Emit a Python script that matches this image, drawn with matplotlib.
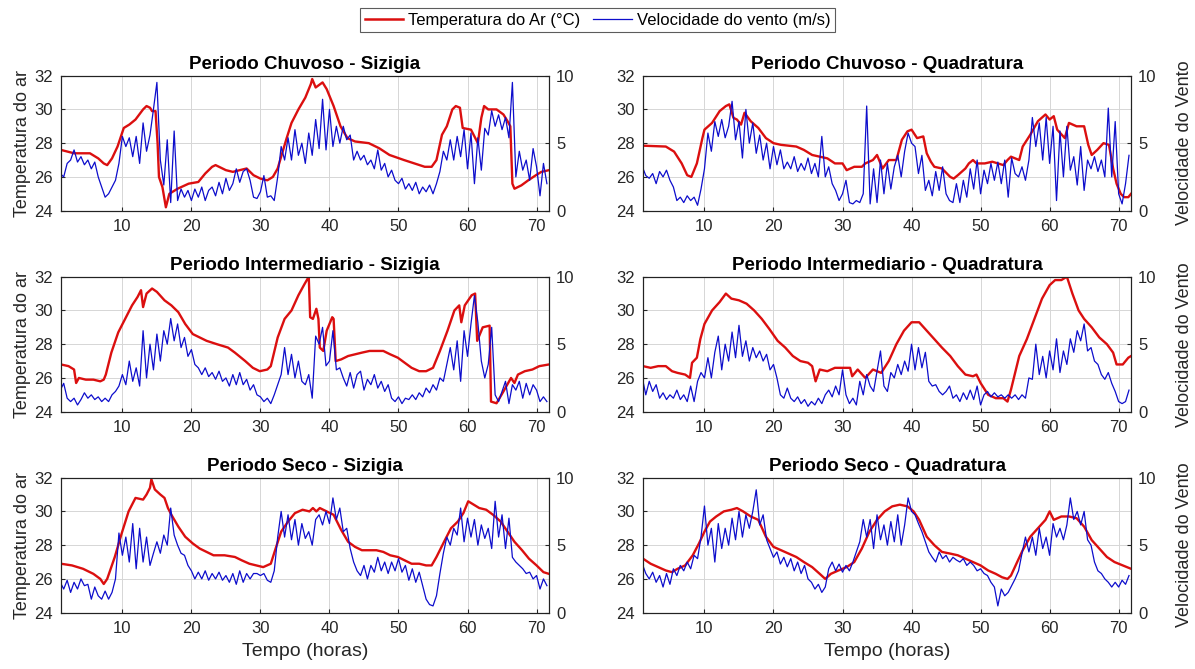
import numpy as np
import matplotlib
matplotlib.use("Agg")
import matplotlib.pyplot as plt
from matplotlib.lines import Line2D

plt.rcParams['font.family'] = ['Liberation Sans', 'DejaVu Sans']

titles = ["Periodo Chuvoso - Sizigia", "Periodo Chuvoso - Quadratura",
          "Periodo Intermediario - Sizigia", "Periodo Intermediario - Quadratura",
          "Periodo Seco - Sizigia", "Periodo Seco - Quadratura"]
legend_labels = ["Temperatura do Ar (°C)", "Velocidade do vento (m/s)"]
x_ticks = [10, 20, 30, 40, 50, 60, 70]
temp_ticks = [24, 26, 28, 30, 32]
wind_ticks = [0, 5, 10]

# ---------------- Temperatura do ar (hours, °C) ----------------
temp1_h = [1.1, 3, 5.3, 6.5, 7.3, 7.8, 8.5, 9.3, 10.2, 11.0,
           11.9, 13.0, 13.5, 14.0, 14.3, 14.8, 15.1, 15.3, 15.8, 16.3,
           16.8, 18.0, 19.6, 21.0, 22.0, 23.0, 23.5, 25.0, 26.0, 27.0,
           28.0, 29.0, 30.0, 31.0, 31.8, 32.5, 33.0, 33.8, 34.5, 35.5,
           36.5, 37.3, 37.5, 38.0, 39.0, 39.6, 40.6, 41.6, 42.6, 43.7,
           45.7, 47.2, 48.7, 50.8, 52.3, 53.8, 54.8, 55.5, 56.3, 57.0,
           57.8, 58.3, 58.9, 59.3, 60.5, 61.5, 62.0, 62.4, 63.0, 64.2,
           65.2, 65.8, 66.2, 66.5, 66.8, 67.8, 68.8, 69.9, 70.7, 71.8]
temp1 = [27.6, 27.4, 27.4, 27.1, 26.8, 26.7, 27.1, 27.8, 28.9, 29.1,
         29.4, 30.0, 30.2, 30.1, 29.9, 29.9, 28.0, 26.0, 25.4, 24.2,
         25.0, 25.3, 25.6, 25.7, 26.2, 26.6, 26.7, 26.4, 26.3, 26.4,
         26.5, 26.1, 25.9, 25.8, 26.0, 26.5, 27.2, 28.3, 29.2, 30.0,
         30.7, 31.5, 31.8, 31.3, 31.6, 31.2, 30.2, 29.0, 28.3, 28.1,
         28.0, 27.7, 27.3, 27.0, 26.8, 26.6, 26.6, 27.0, 28.5, 29.0,
         30.0, 30.2, 30.1, 28.9, 28.8, 28.0, 29.5, 30.2, 30.0, 30.0,
         29.7, 29.3, 29.0, 25.6, 25.3, 25.5, 25.8, 26.1, 26.3, 26.4]

temp2_h = [1.1, 4.4, 5.6, 6.7, 7.5, 8.1, 8.9, 9.7, 10.0, 11.1,
           12.2, 13.1, 13.6, 14.2, 14.7, 15.3, 15.8, 16.7, 17.8, 18.9,
           20.0, 21.1, 23.3, 24.4, 25.6, 26.7, 27.8, 28.9, 30.0, 30.6,
           31.7, 32.8, 33.3, 34.4, 35.0, 35.8, 36.7, 37.8, 38.6, 39.4,
           40.0, 40.8, 41.7, 42.2, 42.8, 43.3, 44.4, 45.6, 46.1, 46.7,
           47.8, 48.3, 48.9, 49.4, 50.6, 51.7, 53.3, 53.9, 54.4, 55.6,
           56.1, 57.2, 58.3, 59.4, 60.0, 60.6, 61.1, 62.2, 62.8, 63.9,
           65.0, 65.6, 66.1, 66.9, 67.8, 68.6, 69.2, 69.7, 70.3, 70.8,
           71.4, 71.8]
temp2 = [27.85, 27.8, 27.5, 26.8, 26.1, 26.0, 26.8, 28.3, 28.8, 29.2,
         29.9, 30.2, 30.3, 29.5, 29.4, 29.1, 29.8, 29.3, 28.9, 28.3,
         28.0, 27.9, 27.8, 27.6, 27.3, 27.2, 27.1, 26.8, 26.8, 26.4,
         26.6, 26.6, 26.8, 27.0, 27.3, 26.5, 27.0, 27.0, 28.2, 28.7,
         28.8, 28.3, 28.4, 27.4, 26.9, 26.6, 26.5, 26.0, 25.9, 26.1,
         26.5, 26.8, 27.0, 26.8, 26.8, 26.9, 26.7, 27.0, 27.2, 27.0,
         27.8, 28.5, 29.3, 29.7, 29.4, 29.6, 28.8, 28.3, 29.2, 29.0,
         29.0, 27.9, 27.3, 27.6, 28.0, 27.9, 26.5, 25.6, 25.0, 24.8,
         24.8, 25.0]

temp3_h = [1.1, 2.2, 3.0, 3.3, 3.7, 4.7, 5.8, 6.8, 7.3, 7.6,
           8.4, 9.4, 10.4, 11.4, 12.2, 12.7, 13.0, 13.5, 14.3, 15.0,
           16.1, 17.1, 18.1, 19.1, 20.2, 21.2, 22.2, 23.7, 25.3, 26.3,
           27.8, 28.9, 29.9, 31.0, 31.5, 32.5, 33.5, 34.5, 35.5, 36.3,
           37.0, 37.2, 37.6, 38.1, 38.4, 38.6, 39.1, 39.6, 40.4, 40.6,
           40.9, 41.7, 42.7, 43.7, 44.7, 45.8, 46.8, 47.8, 48.8, 49.9,
           50.9, 51.9, 53.0, 54.0, 55.0, 56.0, 57.1, 58.1, 58.8, 59.1,
           59.6, 60.6, 61.1, 61.4, 62.2, 63.2, 63.4, 64.2, 65.2, 66.3,
           66.8, 67.3, 68.3, 69.4, 70.4, 71.8]
temp3 = [26.8, 26.7, 26.5, 25.7, 26.0, 25.9, 25.9, 25.8, 25.9, 26.2,
         27.5, 28.7, 29.5, 30.3, 30.8, 31.2, 30.2, 31.0, 31.3, 31.1,
         30.6, 30.3, 29.9, 29.2, 28.6, 28.4, 28.2, 28.0, 27.8, 27.5,
         27.0, 26.6, 26.4, 26.5, 26.7, 28.4, 29.5, 30.0, 30.9, 31.5,
         32.0, 29.6, 29.5, 30.1, 29.5, 27.8, 27.6, 28.8, 29.6, 29.5,
         27.0, 27.1, 27.3, 27.4, 27.5, 27.6, 27.6, 27.6, 27.4, 27.2,
         26.9, 26.6, 26.4, 26.4, 26.6, 27.6, 28.8, 30.0, 30.3, 29.3,
         30.3, 30.9, 31.0, 28.2, 29.0, 29.1, 24.6, 24.5, 25.2, 26.0,
         25.7, 26.2, 26.4, 26.5, 26.7, 26.8]

temp4_h = [1.1, 2.2, 3.3, 4.4, 5.3, 6.1, 7.2, 7.9, 8.2, 8.9,
           9.4, 10.0, 11.1, 12.2, 13.1, 13.9, 15.0, 16.1, 17.2, 18.3,
           19.4, 20.6, 21.7, 22.8, 23.9, 25.0, 25.6, 26.1, 26.7, 27.8,
           28.9, 30.0, 31.1, 31.4, 32.2, 33.3, 34.4, 35.6, 36.7, 37.8,
           38.9, 40.0, 41.1, 42.2, 43.3, 44.4, 45.6, 46.7, 47.8, 48.9,
           49.4, 50.0, 51.1, 52.2, 53.3, 53.9, 54.4, 55.6, 56.7, 57.8,
           58.9, 60.0, 60.8, 61.7, 62.5, 63.3, 64.2, 65.0, 66.1, 67.2,
           68.3, 69.2, 69.7, 70.6, 71.4, 71.8]
temp4 = [26.7, 26.6, 26.7, 26.7, 26.4, 26.3, 26.2, 26.0, 26.9, 27.2,
         28.3, 29.2, 30.0, 30.5, 31.0, 30.7, 30.6, 30.4, 30.0, 29.5,
         28.9, 28.2, 27.8, 27.3, 27.0, 26.9, 26.7, 25.8, 26.5, 26.4,
         26.6, 26.6, 26.6, 26.1, 26.5, 26.0, 26.5, 26.3, 27.0, 28.0,
         28.8, 29.3, 29.3, 28.8, 28.3, 27.8, 27.3, 26.7, 26.2, 26.1,
         26.2, 25.7, 25.0, 24.8, 24.8, 24.6, 25.3, 27.3, 28.3, 29.5,
         30.7, 31.5, 31.8, 31.8, 32.0, 31.0, 30.0, 29.5, 29.0, 28.4,
         28.0, 27.5, 26.8, 26.8, 27.2, 27.3]

temp5_h = [1.1, 2.7, 4.3, 5.8, 6.8, 7.3, 7.8, 8.9, 9.9, 10.9,
           11.9, 13.0, 13.5, 14.0, 14.2, 14.7, 15.5, 16.1, 16.6, 17.1,
           18.1, 19.1, 20.2, 21.2, 22.2, 23.2, 24.8, 26.3, 27.3, 28.4,
           29.4, 30.4, 31.5, 32.2, 33.0, 34.0, 35.0, 36.1, 37.1, 37.6,
           38.1, 38.6, 39.6, 40.6, 41.7, 42.7, 43.7, 44.7, 45.8, 46.8,
           47.8, 48.8, 49.9, 50.9, 51.9, 53.0, 54.0, 54.8, 55.5, 56.6,
           57.6, 58.6, 59.4, 60.1, 60.9, 61.7, 62.7, 63.7, 64.8, 65.8,
           66.8, 67.9, 68.9, 70.0, 71.0, 71.8]
temp5 = [26.9, 26.8, 26.6, 26.3, 26.0, 25.7, 26.0, 27.3, 28.7, 30.0,
         30.8, 30.7, 31.0, 31.4, 31.9, 31.3, 31.0, 30.8, 30.2, 29.8,
         29.1, 28.5, 28.1, 27.8, 27.6, 27.4, 27.4, 27.3, 27.1, 26.9,
         26.8, 26.7, 26.9, 27.8, 28.8, 29.4, 29.9, 30.1, 30.0, 30.2,
         30.0, 30.2, 30.0, 29.8, 28.9, 28.2, 27.9, 27.7, 27.7, 27.7,
         27.6, 27.4, 27.3, 27.1, 26.9, 26.9, 26.8, 26.8, 27.3, 28.2,
         29.0, 29.4, 29.9, 30.6, 30.4, 30.2, 30.1, 29.8, 29.4, 28.8,
         28.2, 27.7, 27.2, 26.8, 26.4, 26.3]

temp6_h = [1.1, 2.2, 3.3, 4.4, 5.3, 6.1, 7.2, 8.3, 9.2, 10.0,
           10.8, 11.7, 12.8, 13.9, 14.7, 15.6, 16.7, 17.8, 18.9, 20.0,
           21.1, 22.2, 23.3, 24.4, 25.6, 26.7, 27.5, 28.3, 29.4, 30.6,
           31.7, 32.8, 33.9, 35.0, 36.1, 37.2, 38.3, 39.4, 40.3, 41.1,
           42.2, 43.3, 44.4, 45.6, 46.7, 47.8, 48.9, 50.0, 51.1, 52.2,
           53.1, 53.9, 54.4, 55.3, 56.1, 57.2, 58.3, 59.4, 60.0, 60.6,
           61.7, 62.8, 63.9, 65.0, 66.1, 67.2, 68.3, 69.4, 70.6, 71.8]
temp6 = [27.2, 26.9, 26.7, 26.5, 26.4, 26.6, 26.8, 27.4, 28.1, 28.8,
         29.4, 29.7, 30.0, 30.1, 30.2, 30.0, 29.7, 29.5, 28.5, 27.9,
         27.7, 27.5, 27.3, 27.0, 26.7, 26.3, 26.0, 26.3, 26.5, 26.7,
         27.0, 27.8, 28.8, 29.5, 30.0, 30.3, 30.4, 30.3, 30.0, 29.5,
         28.5, 28.0, 27.6, 27.5, 27.4, 27.2, 27.0, 26.8, 26.5, 26.3,
         26.1, 26.0, 26.2, 27.0, 27.7, 28.5, 29.0, 29.5, 30.0, 29.5,
         29.7, 29.7, 29.6, 29.1, 28.3, 27.8, 27.3, 27.0, 26.8, 26.6]

# ---------------- Velocidade do vento (m/s), every 0.5 h from hour 1 ----------------
wind1 = [2.75, 2.5, 3.5, 3.75, 4.5, 3.6, 4.0, 3.4, 3.75, 3.1,
         3.6, 2.5, 1.75, 1.0, 1.25, 1.75, 2.25, 3.5, 5.5, 4.75,
         5.4, 4.0, 5.5, 3.5, 6.5, 4.4, 5.6, 7.5, 9.5, 3.75,
         1.9, 5.25, 0.6, 5.9, 0.75, 1.6, 1.0, 1.5, 0.75, 1.6,
         1.0, 1.75, 0.75, 1.5, 1.75, 1.1, 2.1, 1.25, 2.4, 1.5,
         2.0, 3.1, 2.1, 2.9, 3.1, 2.25, 1.0, 0.9, 1.4, 2.6,
         1.0, 1.1, 0.75, 2.5, 4.75, 3.75, 5.4, 3.75, 6.0, 4.1,
         5.0, 3.5, 5.75, 4.1, 6.75, 4.6, 8.25, 4.5, 7.5, 4.75,
         6.25, 5.0, 6.25, 5.25, 5.6, 3.75, 4.4, 3.75, 4.1, 3.4,
         3.75, 3.1, 4.5, 3.0, 3.5, 2.5, 3.0, 2.25, 2.0, 2.4,
         1.6, 2.0, 1.5, 2.1, 1.25, 1.75, 1.4, 1.9, 1.25, 2.0,
         2.9, 4.4, 3.75, 5.25, 3.75, 5.5, 4.0, 6.0, 3.1, 5.75,
         2.0, 5.4, 3.0, 6.1, 5.6, 7.4, 6.25, 7.1, 6.0, 6.9,
         5.4, 9.5, 2.5, 4.4, 3.0, 3.75, 2.25, 4.6, 3.25, 1.1,
         3.5, 2.0]

wind2 = [3.25, 2.6, 2.4, 2.75, 2.0, 2.9, 2.5, 3.0, 2.25, 1.75,
         0.75, 1.0, 0.6, 1.1, 0.75, 1.0, 0.4, 1.6, 3.1, 5.75,
         4.4, 6.6, 5.5, 6.75, 5.4, 6.25, 8.1, 5.25, 6.6, 3.9,
         7.5, 5.0, 6.5, 4.25, 5.6, 3.75, 5.0, 3.1, 4.75, 3.4,
         4.5, 3.1, 3.6, 3.1, 4.0, 2.9, 3.5, 3.0, 3.9, 2.75,
         3.5, 2.5, 5.5, 2.5, 3.25, 2.0, 1.5, 0.75, 1.25, 2.25,
         0.6, 0.5, 0.75, 0.6, 1.25, 7.75, 0.5, 3.1, 0.6, 3.75,
         1.25, 3.5, 1.6, 3.25, 4.1, 2.5, 4.4, 5.75, 5.0, 4.75,
         2.75, 4.1, 1.5, 2.25, 1.1, 2.9, 1.5, 3.25, 1.25, 0.75,
         0.6, 2.0, 0.6, 2.25, 1.0, 3.1, 1.6, 3.75, 1.25, 3.0,
         2.0, 3.5, 2.25, 3.6, 2.0, 3.75, 1.0, 3.9, 2.75, 2.5,
         3.25, 2.25, 3.75, 6.9, 4.75, 6.5, 3.75, 6.9, 3.5, 6.25,
         0.75, 5.9, 2.5, 6.25, 3.0, 4.0, 1.9, 4.75, 1.5, 3.75,
         3.1, 4.0, 2.9, 3.75, 2.5, 7.6, 2.5, 6.6, 1.25, 0.5,
         2.0, 4.1]

wind3 = [1.6, 2.1, 1.0, 0.75, 1.0, 0.5, 0.9, 1.4, 1.0, 1.25,
         0.9, 1.1, 0.75, 1.0, 0.75, 1.25, 1.5, 1.9, 2.75, 2.0,
         3.75, 2.25, 3.25, 1.9, 6.0, 2.5, 5.0, 3.1, 5.75, 3.75,
         6.0, 5.0, 6.9, 5.25, 6.5, 4.75, 5.5, 4.1, 4.6, 3.5,
         3.25, 2.75, 3.25, 2.6, 2.9, 2.4, 3.0, 2.25, 2.5, 1.9,
         2.75, 2.0, 2.9, 2.0, 2.4, 1.6, 2.0, 1.25, 1.1, 0.75,
         1.0, 0.6, 1.25, 2.0, 2.75, 4.75, 2.75, 4.25, 2.5, 3.75,
         2.25, 2.0, 2.75, 1.0, 5.6, 5.0, 6.25, 3.4, 3.75, 6.0,
         3.1, 3.25, 2.5, 1.9, 2.9, 1.75, 2.75, 3.0, 1.6, 2.4,
         2.0, 2.75, 1.75, 2.25, 1.5, 2.0, 1.0, 0.75, 1.1, 0.6,
         1.0, 0.9, 1.25, 0.9, 1.4, 1.1, 1.75, 1.4, 2.0, 1.6,
         2.5, 2.25, 3.5, 4.75, 3.1, 5.25, 2.25, 6.0, 4.1, 6.5,
         8.6, 6.6, 3.75, 2.5, 3.5, 6.25, 1.25, 0.75, 1.5, 2.25,
         0.6, 2.0, 1.6, 2.25, 1.0, 2.1, 1.25, 2.0, 1.6, 0.75,
         1.1, 0.75]

wind4 = [2.5, 1.25, 2.25, 1.5, 2.0, 1.0, 1.4, 0.9, 1.25, 1.0,
         1.6, 0.9, 1.25, 0.75, 1.9, 0.75, 2.25, 2.9, 2.5, 4.0,
         2.5, 4.4, 5.6, 3.1, 5.0, 3.75, 5.9, 4.0, 6.4, 4.1,
         5.25, 3.75, 4.75, 4.0, 4.5, 3.75, 4.25, 3.1, 3.5, 2.5,
         1.25, 1.0, 1.75, 1.0, 0.75, 1.1, 0.6, 0.9, 0.4, 0.75,
         0.5, 1.0, 0.6, 1.25, 1.6, 1.1, 1.9, 1.25, 3.1, 1.25,
         0.6, 1.0, 0.5, 2.25, 1.25, 2.75, 1.9, 1.5, 3.0, 4.5,
         1.9, 1.5, 2.9, 2.5, 3.5, 2.75, 3.75, 3.0, 5.0, 3.1,
         4.75, 3.25, 4.4, 2.25, 1.9, 2.0, 1.5, 1.25, 1.5, 1.9,
         1.0, 1.25, 0.75, 1.4, 0.9, 1.6, 0.9, 1.9, 0.5, 1.25,
         1.5, 1.1, 1.4, 1.1, 1.25, 1.0, 1.25, 1.0, 1.25, 0.9,
         1.25, 1.0, 2.5, 2.4, 5.0, 2.75, 4.1, 2.5, 4.5, 3.1,
         5.4, 2.9, 4.5, 3.5, 5.4, 4.4, 6.0, 5.25, 6.5, 4.5,
         4.75, 3.75, 3.5, 2.75, 2.4, 2.9, 2.1, 1.5, 0.75, 0.6,
         0.75, 1.6]

wind5 = [2.25, 1.75, 2.4, 1.5, 2.25, 1.75, 2.5, 2.0, 2.1, 1.0,
         1.9, 1.25, 1.0, 1.6, 1.0, 1.5, 2.5, 5.9, 4.25, 5.6,
         3.75, 6.6, 3.25, 6.25, 3.75, 5.6, 3.5, 4.4, 5.25, 4.4,
         5.75, 5.0, 7.75, 5.75, 5.0, 4.4, 4.25, 3.5, 3.1, 2.5,
         3.0, 2.5, 3.1, 2.4, 2.9, 2.5, 3.0, 2.4, 2.75, 2.25,
         2.9, 2.1, 3.1, 2.25, 2.9, 2.5, 2.9, 2.9, 2.75, 2.9,
         2.4, 2.25, 3.1, 5.6, 7.5, 5.6, 7.25, 5.4, 6.9, 5.0,
         6.6, 5.5, 6.0, 5.0, 6.9, 7.25, 6.5, 7.5, 6.6, 8.5,
         6.9, 7.75, 6.0, 6.25, 4.75, 3.75, 3.1, 2.75, 3.5, 2.5,
         3.5, 3.0, 4.1, 3.1, 3.75, 2.9, 3.75, 3.1, 4.0, 3.0,
         3.5, 2.4, 3.25, 2.25, 3.0, 2.0, 1.0, 0.6, 0.5, 1.25,
         2.9, 4.4, 5.6, 5.0, 6.25, 5.75, 7.75, 5.25, 7.0, 5.6,
         6.9, 5.0, 6.5, 5.5, 6.25, 4.75, 8.25, 5.6, 7.25, 4.75,
         7.0, 4.1, 3.75, 3.5, 3.25, 2.9, 3.0, 2.5, 2.75, 1.75,
         2.5, 2.0]

wind6 = [3.6, 2.9, 2.5, 3.0, 2.25, 2.75, 1.9, 2.9, 2.1, 3.25,
         2.75, 3.5, 3.1, 3.75, 3.25, 4.25, 4.0, 5.6, 7.9, 5.0,
         6.25, 3.75, 6.6, 4.75, 6.25, 5.0, 7.0, 5.4, 7.5, 5.6,
         7.25, 6.25, 7.5, 9.1, 6.5, 7.25, 5.4, 4.75, 4.1, 4.5,
         3.6, 4.1, 3.4, 4.0, 3.1, 3.75, 2.9, 3.5, 2.5, 2.25,
         1.75, 2.1, 1.5, 1.9, 3.25, 3.75, 3.1, 3.6, 3.0, 3.5,
         3.1, 3.75, 4.5, 5.25, 6.9, 5.6, 6.9, 4.75, 7.25, 5.4,
         6.5, 5.0, 6.75, 5.25, 7.25, 5.0, 6.5, 8.5, 7.5, 7.25,
         6.6, 6.0, 5.25, 4.5, 4.1, 3.75, 4.5, 4.0, 4.25, 3.75,
         4.1, 3.9, 3.75, 4.0, 3.5, 3.75, 3.5, 3.1, 3.25, 2.9,
         2.75, 2.25, 1.9, 0.5, 1.75, 1.25, 1.5, 2.0, 2.5, 3.1,
         4.4, 5.6, 4.5, 5.6, 4.25, 6.25, 4.75, 5.6, 4.25, 6.6,
         5.6, 6.25, 5.4, 6.5, 8.5, 6.9, 7.5, 6.5, 7.5, 5.4,
         5.0, 3.75, 3.1, 2.9, 2.5, 2.25, 1.9, 2.25, 1.9, 2.4,
         2.1, 2.75]

temp_hours = [temp1_h, temp2_h, temp3_h, temp4_h, temp5_h, temp6_h]
temps = [temp1, temp2, temp3, temp4, temp5, temp6]
winds = [wind1, wind2, wind3, wind4, wind5, wind6]

RED = (0.86, 0.06, 0.06)
BLUE = (0.05, 0.05, 0.80)
TXT = '#262626'

fig = plt.figure(figsize=(11.95, 6.69), dpi=100)
lefts = [0.0510, 0.5381]
bottoms = [0.6851, 0.3846, 0.0842]
W, H = 0.4084, 0.2018

for i in range(6):
    r, c = divmod(i, 2)
    ax = fig.add_axes([lefts[c], bottoms[r], W, H])
    wx = 1.0 + 0.5 * np.arange(len(winds[i]))
    ax.plot(temp_hours[i], temps[i], color=RED, lw=1.7, zorder=3)
    ax.set_xlim(1.1, 71.8)
    ax.set_ylim(24, 32)
    ax.set_xticks(x_ticks)
    ax.set_yticks(temp_ticks)
    ax.grid(True, color='#d6d6d6', lw=0.7)
    ax.set_axisbelow(True)
    ax.tick_params(direction='in', length=3, labelsize=12, colors=TXT, pad=6)
    for s in ax.spines.values():
        s.set_color('#222222'); s.set_linewidth(0.8)
    ax.set_title(titles[i], fontsize=13.5, fontweight='bold', pad=5, color='black')
    if c == 0:
        ax.set_ylabel("Temperatura do ar", fontsize=13, color=TXT, labelpad=2)
    if r == 2:
        ax.set_xlabel("Tempo (horas)", fontsize=14, color=TXT, labelpad=5)

    ax2 = ax.twinx()
    ax2.plot(wx, winds[i], color=BLUE, lw=0.9)
    ax2.set_ylim(0, 10)
    ax2.set_xlim(1.1, 71.8)
    ax2.set_yticks(wind_ticks)
    ax2.tick_params(direction='in', length=3, labelsize=12, colors=TXT, pad=5)
    for s in ax2.spines.values():
        s.set_color('#222222'); s.set_linewidth(0.8)
    if c == 1:
        ax2.set_ylabel("Velocidade do Vento", fontsize=13, color=TXT, labelpad=14)

handles = [Line2D([], [], color=RED, lw=1.8), Line2D([], [], color=BLUE, lw=0.9)]
leg = fig.legend(handles, legend_labels, loc='upper center', bbox_to_anchor=(0.5, 1.0),
                 ncol=2, fontsize=12, frameon=True, fancybox=False, edgecolor='#333333',
                 handlelength=2.3, handletextpad=0.3, columnspacing=0.8, borderpad=0.25)
leg.get_frame().set_linewidth(0.8)

fig.savefig("out.png", dpi=100)
